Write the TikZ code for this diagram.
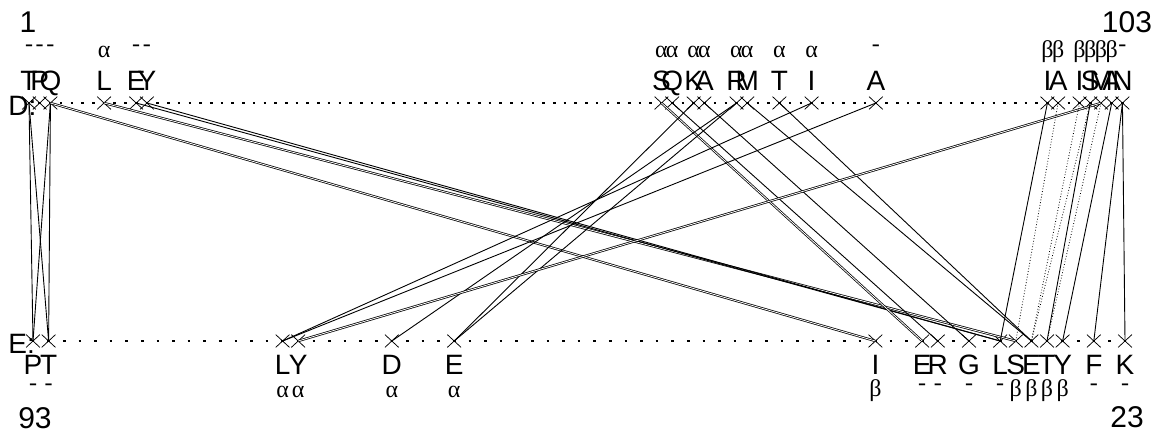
\documentclass[tikz,border=0pt]{standalone}
\usepackage{fontspec}
\setmainfont{Liberation Sans}
\newfontfamily\grk{Liberation Serif}
\usetikzlibrary{shapes.misc}
\tikzset{every picture/.style={line width=0.9pt}}
\tikzset{res/.style={cross out,draw,minimum width=13pt,minimum height=12pt,inner sep=0pt,line width=0.75pt}}
\tikzset{aa/.style={anchor=base,inner sep=0pt,font=\fontsize{28}{28}\selectfont}}
\tikzset{num/.style={anchor=base,inner sep=0pt,font=\fontsize{30}{30}\selectfont}}
\tikzset{ss/.style={inner sep=0pt,font=\grk\fontsize{24}{24}\selectfont}}
\tikzset{dbl/.style={double,double distance=0.8pt,line width=0.75pt}}
\tikzset{hb/.style={dotted,line width=0.8pt}}
\tikzset{toprow/.style={line width=2.6pt,dash pattern=on 2.6pt off 8.12pt}}
\tikzset{botrow/.style={line width=2.6pt,dash pattern=on 2.6pt off 13pt}}

\begin{document}
\begin{tikzpicture}[x=1pt,y=-1pt]
\useasboundingbox (0,0) rectangle (1156,434);
\node[num] (n1) at (28,32) {1};
\node[num] (n103) at (1127,32) {103};
\node[num] (n93) at (35,428) {93};
\node[num] (n23) at (1127,427) {23};
\node[aa,anchor=base west] (dlab) at (8,115) {D:};
\node[aa,anchor=base west] (elab) at (8,353) {E:};
%
% chain D, top
\node[res] (t1) at (29,103) {};      \node[aa] (t1l) at (29,90) {T};       \node[ss] (t1s) at (29,48) {-};
\node[res] (t2) at (39.72,103) {};   \node[aa] (t2l) at (39.72,90) {P};    \node[ss] (t2s) at (39.72,48) {-};
\node[res] (t3) at (50.44,103) {};   \node[aa] (t3l) at (50.44,90) {Q};    \node[ss] (t3s) at (50.44,48) {-};
\node[res] (t8) at (104.04,103) {};  \node[aa] (t8l) at (104.04,90) {L};   \node[ss] (t8s) at (104.04,52) {α};
\node[res] (t11) at (136.2,103) {};  \node[aa] (t11l) at (136.2,90) {E};   \node[ss] (t11s) at (136.2,48) {-};
\node[res] (t12) at (146.92,103) {}; \node[aa] (t12l) at (146.92,90) {Y};  \node[ss] (t12s) at (146.92,48) {-};
\node[res] (t60) at (661.48,103) {}; \node[aa] (t60l) at (661.48,90) {S};  \node[ss] (t60s) at (661.48,52) {α};
\node[res] (t61) at (672.2,103) {};  \node[aa] (t61l) at (672.2,90) {Q};   \node[ss] (t61s) at (672.2,52) {α};
\node[res] (t63) at (693.64,103) {}; \node[aa] (t63l) at (693.64,90) {K};  \node[ss] (t63s) at (693.64,52) {α};
\node[res] (t64) at (704.36,103) {}; \node[aa] (t64l) at (704.36,90) {A};  \node[ss] (t64s) at (704.36,52) {α};
\node[res] (t67) at (736.52,103) {}; \node[aa] (t67l) at (736.52,90) {R};  \node[ss] (t67s) at (736.52,52) {α};
\node[res] (t68) at (747.24,103) {}; \node[aa] (t68l) at (747.24,90) {M};  \node[ss] (t68s) at (747.24,52) {α};
\node[res] (t71) at (779.4,103) {};  \node[aa] (t71l) at (779.4,90) {T};   \node[ss] (t71s) at (779.4,52) {α};
\node[res] (t74) at (811.56,103) {}; \node[aa] (t74l) at (811.56,90) {I};  \node[ss] (t74s) at (811.56,52) {α};
\node[res] (t80) at (875.88,103) {}; \node[aa] (t80l) at (875.88,90) {A};  \node[ss] (t80s) at (875.88,48) {-};
\node[res] (t96) at (1047.4,103) {}; \node[aa] (t96l) at (1047.4,90) {I};  \node[ss] (t96s) at (1047.4,52) {β};
\node[res] (t97) at (1058.12,103) {};\node[aa] (t97l) at (1058.12,90) {A}; \node[ss] (t97s) at (1058.12,52) {β};
\node[res] (t99) at (1079.56,103) {};\node[aa] (t99l) at (1079.56,90) {I}; \node[ss] (t99s) at (1079.56,52) {β};
\node[res] (t100) at (1090.28,103) {};\node[aa] (t100l) at (1090.28,90) {S};\node[ss] (t100s) at (1090.28,52) {β};
\node[res] (t101) at (1101,103) {};  \node[aa] (t101l) at (1101,90) {M};   \node[ss] (t101s) at (1101,52) {β};
\node[res] (t102) at (1111.72,103) {};\node[aa] (t102l) at (1111.72,90) {A};\node[ss] (t102s) at (1111.72,52) {β};
\node[res] (t103) at (1122.44,103) {};\node[aa] (t103l) at (1122.44,90) {N};\node[ss] (t103s) at (1122.44,48) {-};
\draw[toprow] ([xshift=-1.3pt]t1.center) -- ([xshift=1.3pt]t103.center);
%
% chain E, bottom
\node[res] (b93) at (33,341) {};     \node[aa] (b93l) at (33,374) {P};     \node[ss] (b93s) at (33,387) {-};
\node[res] (b92) at (48.6,341) {};   \node[aa] (b92l) at (48.6,374) {T};   \node[ss] (b92s) at (48.6,387) {-};
\node[res] (b77) at (282.6,341) {};  \node[aa] (b77l) at (282.6,374) {L};  \node[ss] (b77s) at (282.6,392) {α};
\node[res] (b76) at (298.2,341) {};  \node[aa] (b76l) at (298.2,374) {Y};  \node[ss] (b76s) at (298.2,392) {α};
\node[res] (b70) at (391.8,341) {};  \node[aa] (b70l) at (391.8,374) {D};  \node[ss] (b70s) at (391.8,392) {α};
\node[res] (b66) at (454.2,341) {};  \node[aa] (b66l) at (454.2,374) {E};  \node[ss] (b66s) at (454.2,392) {α};
\node[res] (b39) at (875.4,341) {};  \node[aa] (b39l) at (875.4,374) {I};  \node[ss] (b39s) at (875.4,391) {β};
\node[res] (b36) at (922.2,341) {};  \node[aa] (b36l) at (922.2,374) {E};  \node[ss] (b36s) at (922.2,387) {-};
\node[res] (b35) at (937.8,341) {};  \node[aa] (b35l) at (937.8,374) {R};  \node[ss] (b35s) at (937.8,387) {-};
\node[res] (b33) at (969,341) {};    \node[aa] (b33l) at (969,374) {G};    \node[ss] (b33s) at (969,387) {-};
\node[res] (b31) at (1000.2,341) {}; \node[aa] (b31l) at (1000.2,374) {L}; \node[ss] (b31s) at (1000.2,387) {-};
\node[res] (b30) at (1015.8,341) {}; \node[aa] (b30l) at (1015.8,374) {S}; \node[ss] (b30s) at (1015.8,391) {β};
\node[res] (b29) at (1031.4,341) {}; \node[aa] (b29l) at (1031.4,374) {E}; \node[ss] (b29s) at (1031.4,391) {β};
\node[res] (b28) at (1047,341) {};   \node[aa] (b28l) at (1047,374) {T};   \node[ss] (b28s) at (1047,391) {β};
\node[res] (b27) at (1062.6,341) {}; \node[aa] (b27l) at (1062.6,374) {Y}; \node[ss] (b27s) at (1062.6,391) {β};
\node[res] (b25) at (1093.8,341) {}; \node[aa] (b25l) at (1093.8,374) {F}; \node[ss] (b25s) at (1093.8,387) {-};
\node[res] (b23) at (1125,341) {};   \node[aa] (b23l) at (1125,374) {K};   \node[ss] (b23s) at (1125,387) {-};
\draw[botrow] ([xshift=-1.3pt]b93.center) -- ([xshift=1.3pt]b23.center);
%
% contacts
\draw (t1.center) -- (b93.center);
\draw (t1.center) -- (b92.center);
\draw (t3.center) -- (b93.center);
\draw (t3.center) -- (b92.center);
\draw[dbl] (t3.center) -- (b39.center);
\draw[dbl] (t8.center) -- (b30.center);
\draw (t11.center) -- (b31.center);
\draw (t12.center) -- (b31.center);
\draw[dbl] (t60.center) -- (b36.center);
\draw (t61.center) -- (b35.center);
\draw (t63.center) -- (b66.center);
\draw (t64.center) -- (b33.center);
\draw (t67.center) -- (b66.center);
\draw (t67.center) -- (b70.center);
\draw (t68.center) -- (b29.center);
\draw (t71.center) -- (b29.center);
\draw (t74.center) -- (b77.center);
\draw (t80.center) -- (b77.center);
\draw[dbl] (t101.center) -- (b76.center);
\draw (t96.center) -- (b31.center);
\draw (t100.center) -- (b28.center);
\draw (t102.center) -- (b27.center);
\draw (t103.center) -- (b25.center);
\draw (t103.center) -- (b23.center);
\draw[hb] (t97.center) -- (b30.center);
\draw[hb] (t99.center) -- (b29.center);
\draw[hb] (t100.center) -- (b29.center);
\draw[hb] (t101.center) -- (b28.center);
\end{tikzpicture}
\end{document}
